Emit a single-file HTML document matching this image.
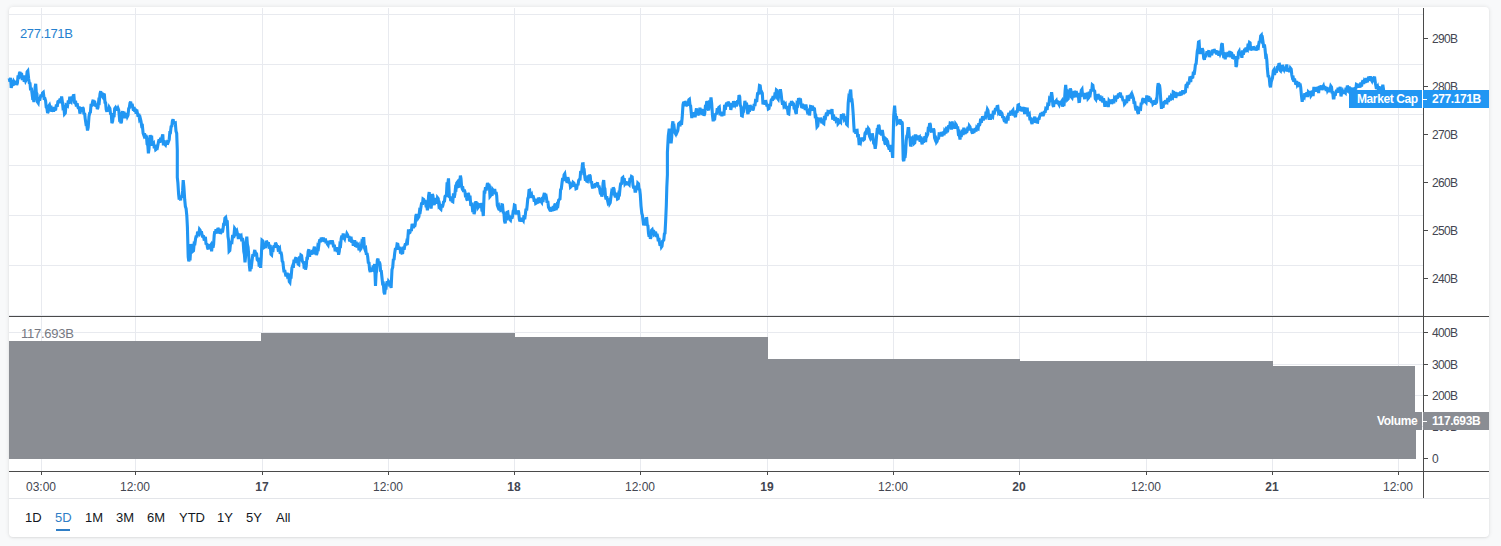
<!DOCTYPE html>
<html><head><meta charset="utf-8"><style>
html,body{margin:0;padding:0;}
body{width:1501px;height:546px;overflow:hidden;background:#f8f9fa;position:relative;font-family:"Liberation Sans",sans-serif;}
.card{position:absolute;left:9px;top:7px;width:1480px;height:530px;background:#fff;border-radius:4px;box-shadow:0 0 4px rgba(0,0,0,.10),0 1px 2px rgba(0,0,0,.06);}
svg{position:absolute;left:0;top:0;}
.t{position:absolute;white-space:nowrap;font-size:12px;line-height:14px;color:#434651;}
.pl{letter-spacing:-0.7px;}
.tc{width:60px;text-align:center;}
.b{font-weight:bold;}
.leg{font-size:13px;line-height:15px;letter-spacing:-0.4px;}
.blue{color:#2581cf;}
.gray{color:#767982;letter-spacing:-0.25px;}
.lb{position:absolute;height:18px;}
.lb span{position:absolute;top:2px;font-size:12px;line-height:14px;color:#fff;font-weight:bold;white-space:nowrap;}
.lb i{position:absolute;left:0;top:9px;width:4px;height:1px;background:#fff;}
.tb{font-size:13px;line-height:16px;color:#131722;}
.sel{color:#2f7ec6;}
</style></head><body>
<div class="card"></div>
<svg width="1501" height="546" viewBox="0 0 1501 546" shape-rendering="crispEdges">
<line x1="41.5" y1="8" x2="41.5" y2="471" stroke="#e8eaef" stroke-width="1"/>
<line x1="135.5" y1="8" x2="135.5" y2="471" stroke="#e8eaef" stroke-width="1"/>
<line x1="262.5" y1="8" x2="262.5" y2="471" stroke="#e8eaef" stroke-width="1"/>
<line x1="388.5" y1="8" x2="388.5" y2="471" stroke="#e8eaef" stroke-width="1"/>
<line x1="514.5" y1="8" x2="514.5" y2="471" stroke="#e8eaef" stroke-width="1"/>
<line x1="640.5" y1="8" x2="640.5" y2="471" stroke="#e8eaef" stroke-width="1"/>
<line x1="767.5" y1="8" x2="767.5" y2="471" stroke="#e8eaef" stroke-width="1"/>
<line x1="893.5" y1="8" x2="893.5" y2="471" stroke="#e8eaef" stroke-width="1"/>
<line x1="1019.5" y1="8" x2="1019.5" y2="471" stroke="#e8eaef" stroke-width="1"/>
<line x1="1146.5" y1="8" x2="1146.5" y2="471" stroke="#e8eaef" stroke-width="1"/>
<line x1="1272.5" y1="8" x2="1272.5" y2="471" stroke="#e8eaef" stroke-width="1"/>
<line x1="1398.5" y1="8" x2="1398.5" y2="471" stroke="#e8eaef" stroke-width="1"/>
<line x1="9" y1="14.5" x2="1423" y2="14.5" stroke="#e8eaef" stroke-width="1"/>
<line x1="9" y1="64.5" x2="1423" y2="64.5" stroke="#e8eaef" stroke-width="1"/>
<line x1="9" y1="114.5" x2="1423" y2="114.5" stroke="#e8eaef" stroke-width="1"/>
<line x1="9" y1="165.5" x2="1423" y2="165.5" stroke="#e8eaef" stroke-width="1"/>
<line x1="9" y1="215.5" x2="1423" y2="215.5" stroke="#e8eaef" stroke-width="1"/>
<line x1="9" y1="265.5" x2="1423" y2="265.5" stroke="#e8eaef" stroke-width="1"/>
<line x1="9" y1="315.5" x2="1423" y2="315.5" stroke="#e8eaef" stroke-width="1"/>
<line x1="9" y1="332.5" x2="1423" y2="332.5" stroke="#e8eaef" stroke-width="1"/>
<line x1="9" y1="364.5" x2="1423" y2="364.5" stroke="#e8eaef" stroke-width="1"/>
<line x1="9" y1="395.5" x2="1423" y2="395.5" stroke="#e8eaef" stroke-width="1"/>
<line x1="9" y1="426.5" x2="1423" y2="426.5" stroke="#e8eaef" stroke-width="1"/>
<rect x="9" y="341" width="252" height="118" fill="#8a8d93"/>
<rect x="261" y="333" width="254" height="126" fill="#8a8d93"/>
<rect x="515" y="337" width="253" height="122" fill="#8a8d93"/>
<rect x="768" y="359" width="252" height="100" fill="#8a8d93"/>
<rect x="1020" y="361" width="253" height="98" fill="#8a8d93"/>
<rect x="1273" y="366" width="142" height="93" fill="#8a8d93"/>
<rect x="1415" y="430" width="1" height="29" fill="#8a8d93"/>
<polyline points="9.2,78.3 9.9,81.8 10.6,77.8 11.2,87.9 11.9,85.6 12.6,83.7 13.3,85.6 14.0,81.7 14.7,82.9 15.4,84.3 16.0,80.7 16.7,85.0 17.4,82.9 18.1,75.4 18.8,79.1 19.4,73.3 20.1,71.9 20.8,76.0 21.5,73.0 22.2,78.5 22.9,78.3 23.6,75.4 24.2,81.9 24.9,78.6 25.6,81.0 26.3,79.6 27.1,71.9 27.8,71.0 28.6,78.5 29.3,82.9 30.0,83.4 30.6,90.3 31.3,87.7 32.0,93.0 32.6,97.9 33.3,97.6 33.9,102.0 34.5,97.2 35.1,87.4 35.7,83.8 36.3,92.5 36.9,93.6 37.5,102.0 38.2,103.0 38.9,97.2 39.6,100.6 40.3,97.5 41.0,94.7 41.8,96.7 42.5,93.0 43.3,92.3 44.1,98.5 44.9,98.5 45.6,100.9 46.2,107.2 46.9,108.1 47.6,113.0 48.2,111.7 48.9,105.8 49.5,104.9 50.2,107.6 50.9,105.6 51.5,111.5 52.2,110.4 52.9,108.5 53.6,111.7 54.3,107.0 55.0,109.5 55.7,109.3 56.4,104.6 57.2,106.7 57.9,101.7 58.6,101.2 59.3,103.0 60.1,98.5 60.8,103.2 61.6,96.4 62.3,101.2 63.0,107.9 63.8,107.3 64.5,114.0 65.3,113.1 66.0,105.2 66.8,105.8 67.5,106.2 68.3,100.4 69.0,103.9 69.8,96.6 70.5,100.3 71.2,101.3 71.9,96.4 72.6,98.6 73.3,95.7 73.9,95.6 74.5,102.5 75.1,103.0 75.8,102.6 76.4,106.6 77.1,103.2 77.8,106.7 78.5,108.9 79.2,106.5 79.9,113.6 80.6,110.4 81.3,107.2 81.9,111.8 82.6,107.2 83.3,108.5 83.9,114.3 84.6,112.8 85.2,118.6 86.0,124.1 86.7,123.8 87.5,130.5 88.2,127.2 89.0,116.4 89.7,113.0 90.4,112.3 91.1,103.8 91.8,106.4 92.5,102.1 93.2,99.8 93.8,105.7 94.5,100.8 95.2,104.0 95.9,106.5 96.6,104.3 97.3,108.9 98.0,107.6 98.7,100.9 99.3,101.6 100.0,93.9 100.7,91.1 101.3,95.6 102.0,92.4 102.6,96.6 103.2,97.5 103.8,93.7 104.4,94.8 105.0,102.5 105.6,102.8 106.2,109.5 106.9,111.7 107.7,107.7 108.4,111.5 109.2,107.3 109.9,108.5 110.6,114.5 111.2,113.2 111.9,123.1 112.6,121.4 113.3,115.7 114.0,117.2 114.7,108.5 115.4,107.6 116.1,109.4 116.8,106.4 117.4,110.4 118.1,108.5 118.8,110.3 119.5,118.5 120.2,117.6 120.9,123.2 121.5,121.9 122.1,112.6 122.7,111.3 123.4,114.1 124.0,111.6 124.7,118.3 125.3,113.0 126.0,117.6 126.6,114.3 127.3,116.8 128.0,115.4 128.7,108.5 129.3,108.0 130.0,103.0 130.7,101.7 131.4,107.4 132.1,103.8 132.8,107.6 133.5,110.6 134.1,107.1 134.8,111.8 135.4,108.7 136.1,113.8 136.7,109.5 137.4,113.0 138.1,116.8 138.8,113.8 139.6,119.4 140.3,118.4 141.0,121.4 141.7,126.1 142.4,125.8 143.1,133.1 143.8,135.1 144.5,133.3 145.2,138.6 145.8,134.9 146.5,136.9 147.1,144.2 147.8,145.1 148.4,153.4 149.0,148.8 149.6,139.2 150.2,135.1 150.9,138.9 151.6,135.5 152.2,145.7 152.9,144.2 153.6,143.4 154.3,148.3 155.0,145.9 155.7,149.7 156.4,149.2 157.1,144.8 157.7,145.9 158.4,142.4 159.1,139.4 159.9,142.7 160.6,137.7 161.4,140.1 162.1,136.9 162.8,134.3 163.4,145.4 164.1,140.2 164.8,144.2 165.5,145.0 166.3,141.8 167.0,144.5 167.8,140.0 168.5,141.5 169.2,139.7 169.8,132.6 170.4,132.6 171.1,126.6 171.8,126.1 172.4,121.0 173.1,119.3 173.9,124.3 174.6,123.0 175.3,122.8 176.0,131.1 176.7,133.3 177.3,150.0 177.3,177.5 177.9,182.8 178.6,194.1 179.2,199.5 179.9,197.7 180.6,200.4 181.2,195.5 181.9,197.6 182.6,190.9 183.2,180.2 183.9,187.1 184.7,199.5 185.4,206.6 186.1,208.6 186.8,215.5 187.4,226.9 188.2,256.8 188.8,261.4 189.4,257.9 190.0,260.4 191.0,244.0 191.6,248.0 192.2,247.5 192.8,251.3 193.5,250.7 194.2,243.2 194.9,243.4 195.6,238.5 196.3,235.7 196.9,237.4 197.6,231.6 198.3,233.0 198.9,233.7 199.5,229.4 200.1,230.2 200.7,232.9 201.4,231.3 202.0,234.8 202.7,237.2 203.3,235.4 204.0,238.9 204.7,238.5 205.4,237.0 206.1,244.6 206.8,243.3 207.5,247.6 208.2,249.4 208.8,244.1 209.5,248.0 210.2,245.8 210.9,244.8 211.6,251.4 212.3,244.5 213.0,247.6 213.6,244.5 214.2,235.2 214.8,231.1 215.4,233.4 216.0,229.2 216.6,232.0 217.2,233.2 217.9,227.9 218.5,229.3 219.2,233.4 219.8,228.9 220.5,233.9 221.2,232.0 221.8,228.9 222.4,232.5 223.0,229.3 223.6,224.4 224.3,224.4 224.9,218.3 225.7,217.5 226.5,222.1 227.3,222.0 228.0,236.6 228.6,240.3 229.1,251.3 229.8,250.6 230.6,242.8 231.3,242.1 231.9,242.3 232.5,236.5 233.1,236.6 233.8,236.6 234.6,228.3 235.3,229.3 236.1,232.7 236.9,231.3 237.7,234.8 238.4,238.9 239.1,233.4 239.7,238.4 240.4,236.6 241.1,235.9 241.8,241.3 242.5,238.1 243.2,242.1 243.8,251.6 244.4,254.3 245.0,262.3 245.6,256.2 246.2,243.2 246.8,236.6 247.4,244.3 248.1,247.3 248.7,255.0 249.3,264.6 250.0,271.4 250.8,264.4 251.5,265.4 252.3,258.6 252.9,254.1 253.6,256.5 254.2,253.1 254.8,249.9 255.4,255.1 256.0,253.1 256.6,253.9 257.2,259.7 257.8,260.4 258.5,257.7 259.2,266.6 259.9,263.3 260.6,267.8 261.3,256.7 262.0,240.3 262.7,240.9 263.5,248.0 264.2,247.6 264.9,244.4 265.6,248.2 266.3,240.9 267.0,242.1 267.7,245.7 268.4,242.3 269.0,246.4 269.7,245.8 270.3,246.1 271.0,254.4 271.6,255.0 272.2,249.9 272.8,252.1 273.4,247.6 274.1,245.4 274.8,247.7 275.5,242.7 276.2,244.0 276.9,246.7 277.5,245.3 278.2,249.9 278.9,249.5 279.6,248.5 280.2,253.9 280.9,251.9 281.6,255.0 282.2,261.1 282.9,262.1 283.5,267.8 284.1,272.3 284.7,269.9 285.3,273.3 286.0,276.5 286.7,272.8 287.4,276.0 288.1,275.1 288.7,276.2 289.3,281.6 289.9,282.4 290.6,275.7 291.2,276.1 291.9,268.1 292.6,266.0 293.3,267.8 294.0,259.6 294.7,262.5 295.4,258.6 296.1,257.4 296.8,263.0 297.4,260.9 298.1,264.1 298.8,264.6 299.5,256.3 300.2,259.6 300.9,255.0 301.6,255.5 302.3,261.1 303.0,262.3 303.6,261.4 304.2,268.5 304.9,266.2 305.5,269.6 306.2,266.5 306.9,258.2 307.5,258.2 308.2,251.3 308.9,249.3 309.6,256.8 310.3,251.1 311.0,253.1 311.7,254.4 312.4,249.9 313.0,252.6 313.7,249.5 314.4,246.7 315.0,254.4 315.7,252.1 316.4,255.0 317.1,253.0 317.8,246.6 318.5,247.6 319.2,242.1 319.9,239.5 320.5,242.3 321.2,237.7 321.9,239.4 322.6,240.9 323.3,237.6 324.0,241.7 324.7,240.3 325.4,238.5 326.0,243.4 326.7,241.2 327.4,244.0 328.1,245.0 328.8,240.7 329.5,244.1 330.2,242.1 330.9,240.6 331.5,244.1 332.2,240.4 332.9,243.0 333.6,247.3 334.3,244.8 335.0,249.7 335.7,249.5 336.4,247.1 337.1,252.0 337.9,247.8 338.6,254.8 339.3,251.3 339.9,244.4 340.6,245.1 341.2,238.5 341.9,235.6 342.5,239.5 343.2,233.4 343.9,237.5 344.6,238.8 345.4,234.7 346.1,237.1 346.9,233.6 347.6,234.8 348.3,237.6 349.0,236.0 349.6,241.4 350.3,240.3 351.0,236.6 351.8,242.8 352.5,239.9 353.3,245.7 354.0,242.1 354.7,240.3 355.5,246.9 356.2,241.6 357.0,247.5 357.7,245.8 358.4,245.0 359.0,250.4 359.7,247.0 360.4,249.5 361.1,248.5 361.8,242.8 362.5,243.9 363.2,238.5 363.8,238.5 364.4,247.8 365.0,249.5 365.7,248.6 366.4,254.8 367.0,253.0 367.7,256.8 368.3,262.6 369.0,263.0 369.6,269.6 370.3,272.0 371.1,267.9 371.8,269.6 372.5,270.0 373.2,265.5 373.9,267.9 374.6,264.1 375.5,286.0 376.1,273.3 376.7,270.7 377.3,260.4 378.0,258.7 378.6,263.9 379.3,261.8 380.0,264.1 380.6,270.7 381.3,271.1 381.9,277.0 382.6,283.5 383.3,283.3 384.0,292.2 384.7,294.3 385.3,288.4 385.9,289.7 386.5,284.2 387.2,281.4 387.9,284.9 388.5,281.4 389.2,282.4 389.8,286.4 390.5,284.3 391.1,288.0 392.0,269.6 392.7,267.5 393.4,258.9 394.0,260.0 394.7,253.1 395.5,248.1 396.3,249.6 397.1,244.0 397.8,244.2 398.6,248.4 399.3,248.5 400.0,246.9 400.6,253.5 401.3,249.4 402.0,253.1 402.7,252.9 403.4,246.7 404.1,249.8 404.8,245.8 405.5,243.3 406.1,245.4 406.8,241.4 407.5,242.1 408.5,229.3 409.2,233.1 410.0,232.4 410.7,229.4 411.4,231.0 412.0,225.2 412.7,225.1 413.3,228.2 414.0,225.0 414.6,226.9 415.2,224.5 415.8,216.1 416.4,214.1 417.0,216.8 417.6,214.7 418.2,217.8 418.9,216.7 419.6,210.6 420.3,211.3 421.0,206.8 421.7,202.4 422.4,204.9 423.0,199.0 423.7,199.5 424.3,201.9 425.0,200.0 425.6,203.1 426.2,207.4 426.8,206.0 427.4,210.4 428.0,205.5 428.6,196.0 429.2,192.1 429.8,198.9 430.5,201.3 431.1,208.6 431.7,202.7 432.3,194.0 432.9,195.6 433.6,202.7 434.2,205.0 434.9,201.0 435.5,203.6 436.2,197.9 436.8,203.9 437.5,197.6 438.2,198.5 438.9,205.3 439.5,204.4 440.2,208.6 440.9,209.3 441.6,204.2 442.3,207.4 443.0,205.0 443.7,200.9 444.4,202.2 445.0,196.5 445.7,195.8 446.4,195.7 447.1,182.4 447.8,184.1 448.5,178.4 449.4,197.6 450.1,196.4 450.8,201.1 451.4,198.2 452.1,201.3 452.8,201.7 453.5,193.3 454.2,197.8 454.9,194.0 455.5,187.9 456.1,188.6 456.7,183.0 457.3,182.2 457.9,186.8 458.5,186.6 459.1,181.6 459.8,183.6 460.4,175.6 461.0,178.6 461.6,186.6 462.2,188.5 462.9,188.1 463.6,192.1 464.3,189.8 465.0,192.1 465.6,197.4 466.2,194.5 466.8,199.5 467.4,200.4 468.0,193.1 468.6,194.0 469.3,198.2 470.0,195.7 470.7,204.7 471.4,205.0 472.1,204.6 472.8,212.1 473.4,209.8 474.1,214.1 474.7,211.4 475.3,203.6 475.9,201.3 476.6,203.9 477.3,202.6 478.0,207.7 478.7,206.8 479.4,204.9 480.0,207.3 480.7,203.2 481.4,205.0 482.0,211.3 482.7,210.2 483.3,216.0 484.2,192.1 484.9,192.1 485.5,187.1 486.2,190.5 486.9,186.6 487.5,182.9 488.2,186.6 488.8,183.9 489.4,186.0 490.0,196.5 490.6,195.8 491.3,192.8 492.0,195.8 492.6,189.4 493.3,190.3 494.0,194.2 494.7,189.0 495.4,193.7 496.1,192.1 496.7,195.6 497.3,205.1 497.9,206.8 498.6,205.9 499.3,210.4 500.0,207.4 500.7,210.4 501.3,210.1 501.9,204.8 502.5,205.0 503.2,212.3 503.9,212.7 504.5,220.9 505.2,223.3 505.8,217.2 506.5,220.3 507.1,212.3 507.8,212.0 508.5,218.2 509.1,215.1 509.8,219.6 510.5,220.3 511.2,216.5 511.9,218.7 512.6,215.9 513.2,211.0 513.8,209.9 514.4,205.0 515.0,205.3 515.6,212.6 516.2,214.1 516.8,210.9 517.5,214.1 518.1,210.4 518.7,212.4 519.3,219.0 519.9,221.4 520.6,218.5 521.2,221.7 521.9,217.7 522.6,219.6 523.3,220.6 524.0,215.3 524.7,219.3 525.4,214.1 526.0,208.7 526.6,210.6 527.2,205.0 527.8,198.5 528.4,197.1 529.0,190.3 529.6,190.1 530.3,196.2 530.9,195.8 531.6,194.7 532.2,197.9 532.9,195.6 533.6,197.6 534.3,201.7 535.0,198.6 535.7,203.5 536.4,203.1 537.1,199.5 537.8,203.6 538.4,197.6 539.1,199.5 539.7,202.6 540.4,198.1 541.0,201.3 541.7,202.3 542.4,196.9 543.0,202.0 543.7,195.8 544.4,192.9 545.0,199.4 545.7,193.9 546.4,197.6 547.1,202.7 547.8,200.8 548.5,207.2 549.2,208.6 549.9,207.0 550.5,211.6 551.2,208.0 551.9,209.5 552.6,211.0 553.3,205.9 554.0,210.9 554.7,205.0 555.3,203.7 555.9,209.9 556.5,208.6 557.2,204.7 557.9,205.4 558.6,200.2 559.3,199.5 560.0,199.0 560.6,189.6 561.3,188.9 562.0,183.0 562.7,178.0 563.4,181.0 564.1,174.9 564.8,173.8 565.4,178.1 566.0,176.9 566.6,181.1 567.2,182.6 567.8,177.3 568.4,179.3 569.1,183.6 569.8,181.7 570.5,187.2 571.2,186.6 571.9,184.5 572.5,186.8 573.2,182.4 573.9,183.0 574.6,186.1 575.3,184.1 576.0,188.8 576.7,188.5 577.4,183.9 578.0,185.3 578.7,180.3 579.4,179.3 580.0,179.2 580.6,172.2 581.2,172.0 581.8,171.1 582.5,163.8 583.1,163.7 583.7,171.9 584.3,171.3 584.9,177.5 585.5,180.7 586.1,177.3 586.7,181.1 587.4,181.4 588.1,175.5 588.8,178.5 589.5,174.7 590.2,176.0 590.9,183.2 591.5,181.2 592.2,186.6 592.9,188.3 593.6,184.0 594.3,187.9 595.0,185.7 595.6,183.5 596.2,186.2 596.8,183.9 597.5,182.5 598.2,187.6 598.9,185.6 599.6,188.5 600.3,192.7 601.1,192.4 601.8,196.6 602.4,193.5 603.1,182.9 603.7,180.1 604.3,187.4 604.9,188.6 605.5,196.6 606.1,199.4 606.7,196.2 607.3,199.4 608.0,202.5 608.8,201.2 609.5,204.0 610.2,202.8 611.0,196.6 611.7,191.6 612.5,192.5 613.2,187.5 614.0,189.0 614.7,194.8 615.4,197.2 616.1,192.9 616.8,194.8 617.5,199.0 618.3,198.5 618.9,193.3 619.5,193.8 620.1,187.5 620.8,182.7 621.5,184.7 622.2,178.0 622.9,177.4 623.6,181.0 624.2,178.3 624.9,183.9 625.6,182.9 626.3,181.5 627.0,185.3 627.7,181.7 628.4,183.8 629.2,184.7 630.0,177.9 630.7,180.1 631.5,176.5 632.2,176.9 633.0,185.6 633.7,188.4 634.4,185.6 635.0,191.1 635.7,191.1 636.4,187.2 637.1,189.5 637.8,183.1 638.5,183.8 639.1,189.3 639.7,189.6 640.3,194.8 641.0,205.8 641.8,213.1 642.4,215.4 643.0,220.4 643.6,225.3 644.3,218.9 644.9,224.1 645.5,224.1 646.1,218.7 646.7,218.6 647.3,225.1 647.9,225.7 648.5,233.3 649.1,236.7 649.8,235.1 650.4,238.8 651.0,237.1 651.6,230.2 652.2,229.6 652.9,232.5 653.5,229.9 654.2,234.1 654.9,233.3 655.6,231.7 656.3,237.0 657.0,233.9 657.7,236.9 658.3,241.3 658.9,238.0 659.5,242.4 660.1,245.7 660.8,243.6 661.4,247.0 662.0,246.1 662.6,241.1 663.2,240.6 663.8,239.8 664.4,233.8 665.0,233.3 665.6,221.8 666.3,205.8 666.8,187.6 667.4,174.7 667.4,152.4 668.3,135.9 669.2,128.6 669.8,134.8 670.5,135.8 671.1,143.3 671.7,137.4 672.3,125.4 672.9,121.3 673.5,127.7 674.1,127.0 674.7,132.3 675.5,133.7 676.3,129.9 677.1,132.3 677.8,130.7 678.6,123.7 679.3,123.1 680.0,126.3 680.8,121.8 681.5,124.9 682.2,117.5 683.0,104.8 683.7,101.8 684.4,106.2 685.0,101.1 685.7,103.0 686.3,106.2 686.9,102.6 687.5,104.8 688.1,104.4 688.8,99.8 689.4,99.3 690.0,105.0 690.6,105.8 691.2,112.1 691.8,118.0 692.4,112.6 693.0,115.8 693.7,117.1 694.4,112.2 695.1,117.4 695.8,112.1 696.5,108.3 697.1,115.3 697.8,111.8 698.5,114.0 699.2,115.1 699.9,107.7 700.6,113.4 701.3,110.3 702.0,109.1 702.6,115.0 703.3,112.0 704.0,115.8 704.7,114.0 705.4,106.4 706.1,106.4 706.8,101.1 707.4,102.3 708.0,108.9 708.6,110.3 709.4,103.3 710.2,104.2 711.0,97.5 711.7,103.7 712.5,115.5 713.2,121.3 713.9,115.0 714.5,120.3 715.2,114.5 715.9,114.0 716.6,113.6 717.3,108.1 718.0,111.4 718.7,107.5 719.3,107.0 719.9,114.0 720.5,114.0 721.2,111.7 721.9,116.3 722.6,111.7 723.3,114.0 724.0,114.1 724.6,104.8 725.3,109.8 726.0,104.8 726.7,102.6 727.4,106.4 728.1,101.8 728.8,103.0 729.5,105.8 730.1,102.9 730.8,109.9 731.5,106.6 732.2,104.4 732.9,107.3 733.5,101.2 734.2,103.0 734.9,104.4 735.6,101.3 736.3,106.4 737.0,103.9 737.7,100.2 738.4,102.5 739.0,95.2 739.7,96.6 740.3,105.3 741.0,106.7 741.6,115.8 742.3,116.1 743.0,110.0 743.6,110.5 744.3,106.6 744.9,100.8 745.6,106.5 746.2,103.0 746.8,104.3 747.4,112.5 748.0,114.0 748.7,110.2 749.4,111.9 750.0,105.2 750.7,106.6 751.4,109.3 752.1,106.2 752.8,110.4 753.5,108.5 754.2,104.1 754.9,106.1 755.5,100.8 756.2,101.1 756.8,100.9 757.5,93.8 758.1,93.8 758.8,91.9 759.5,85.6 760.2,85.9 761.0,92.3 761.7,92.0 762.3,93.2 763.0,104.3 763.6,103.0 764.3,100.7 765.0,104.7 765.6,100.2 766.3,103.0 767.0,106.5 767.6,103.9 768.3,108.9 769.0,108.5 769.7,104.0 770.4,106.4 771.1,100.4 771.8,99.3 772.5,100.7 773.1,95.9 773.8,99.2 774.5,97.5 775.1,92.5 775.8,94.7 776.4,90.1 777.0,90.6 777.6,98.5 778.2,99.3 778.9,94.2 779.7,94.7 780.4,89.2 781.1,93.6 781.9,101.1 782.6,104.7 783.2,100.8 783.9,105.8 784.6,104.8 785.3,104.1 786.0,109.1 786.7,106.2 787.4,108.5 788.1,113.7 788.8,114.0 789.5,106.4 790.1,103.0 790.8,105.6 791.5,101.0 792.2,104.5 792.9,103.0 793.6,103.8 794.2,109.3 794.9,108.0 795.6,112.1 796.3,113.9 797.0,103.9 797.7,104.7 798.4,99.3 799.1,99.2 799.8,103.8 800.4,98.4 801.1,104.8 801.8,107.8 802.5,103.6 803.1,108.6 803.8,106.6 804.5,104.4 805.2,110.1 805.9,104.5 806.6,108.5 807.4,111.8 808.2,110.9 809.0,114.0 809.7,114.1 810.5,106.4 811.2,106.6 811.9,108.4 812.5,105.7 813.2,110.8 813.9,108.5 814.5,108.8 815.2,116.1 815.8,115.8 816.4,119.5 817.0,126.8 817.8,125.8 818.6,119.1 819.4,119.5 820.0,120.8 820.6,117.7 821.2,119.5 821.8,123.3 822.5,120.6 823.1,123.1 823.8,123.6 824.5,116.0 825.1,120.0 825.8,115.8 826.5,112.6 827.2,116.1 827.9,111.7 828.6,112.1 829.3,113.7 830.0,110.1 830.6,113.7 831.3,112.1 832.0,109.0 832.7,119.7 833.4,114.7 834.1,117.6 834.8,120.7 835.5,117.1 836.1,120.4 836.8,119.5 837.4,118.2 838.0,123.8 838.6,123.1 839.3,119.7 840.0,121.3 840.7,122.1 841.4,114.1 842.0,119.3 842.7,115.8 843.5,113.8 844.3,118.9 845.1,117.6 845.8,118.4 846.6,124.3 847.3,125.0 848.2,103.0 848.8,97.3 849.5,98.3 850.1,92.0 850.7,89.6 851.3,99.1 851.9,99.3 852.5,104.7 853.2,114.0 853.8,124.8 854.3,132.3 855.0,129.9 855.8,133.8 856.5,130.4 857.1,130.3 857.7,137.4 858.3,134.1 859.2,145.1 859.8,141.6 860.5,142.7 861.1,139.6 861.8,137.9 862.5,140.8 863.1,137.6 863.8,139.6 864.4,139.1 865.0,133.2 865.6,132.3 866.3,132.8 867.0,128.0 867.7,132.9 868.4,128.6 869.0,129.5 869.6,136.4 870.2,137.8 870.9,135.6 871.6,140.3 872.3,133.3 873.0,137.8 873.7,143.3 874.5,143.8 875.2,148.8 875.9,144.1 876.6,135.9 877.2,129.7 877.9,129.8 878.5,124.9 879.1,126.0 879.7,132.7 880.3,134.1 881.0,131.6 881.6,135.6 882.3,130.0 883.0,134.1 883.6,139.1 884.3,138.8 884.9,143.3 885.5,144.6 886.1,139.1 886.7,139.6 887.3,143.8 887.9,143.2 888.5,146.9 889.2,149.6 889.9,144.9 890.6,151.8 891.3,146.9 892.0,150.8 892.7,157.9 893.7,115.8 894.6,105.7 895.2,113.0 895.9,117.6 896.5,116.1 897.1,123.6 897.7,123.1 898.3,121.3 898.9,124.0 899.5,121.3 900.2,119.4 900.9,124.8 901.6,121.4 902.3,123.1 903.2,159.7 903.8,161.1 904.4,156.9 905.0,157.9 905.6,152.4 906.2,141.1 906.8,135.9 907.4,134.9 908.1,128.6 908.7,128.6 909.3,136.6 909.9,137.8 910.5,145.1 911.1,145.2 911.7,138.4 912.3,137.8 912.9,142.1 913.6,139.9 914.2,143.3 914.8,142.7 915.4,135.9 916.0,135.9 916.7,138.9 917.4,135.6 918.1,140.1 918.8,137.8 919.5,137.1 920.1,141.8 920.8,136.5 921.5,141.4 922.2,144.4 922.9,137.7 923.5,142.7 924.2,139.6 924.9,136.2 925.6,142.1 926.3,135.2 927.0,135.9 927.7,134.3 928.4,126.8 929.0,127.9 929.7,123.1 930.3,124.3 931.0,130.9 931.6,132.3 932.2,128.8 932.8,132.0 933.4,128.6 934.0,130.2 934.6,137.9 935.2,139.6 935.8,138.8 936.5,142.2 937.1,141.4 937.8,137.7 938.5,139.3 939.1,133.9 939.8,134.1 940.5,136.3 941.2,131.9 941.9,136.4 942.6,134.1 943.3,131.6 944.0,135.2 944.6,131.2 945.3,132.3 946.0,133.4 946.7,126.6 947.4,132.1 948.1,128.6 948.8,125.4 949.5,128.0 950.1,123.5 950.8,124.0 951.5,129.5 952.2,121.5 952.9,128.0 953.6,126.8 954.3,125.0 955.0,128.6 955.6,123.9 956.3,124.9 957.0,128.5 957.6,126.4 958.3,133.0 959.0,132.3 960.0,139.6 960.6,134.8 961.2,137.1 961.8,132.3 962.5,129.8 963.1,135.0 963.8,127.7 964.5,132.3 965.2,134.0 965.9,128.6 966.6,132.7 967.3,130.4 968.0,126.9 968.6,130.4 969.3,125.8 970.0,126.8 970.6,130.3 971.3,128.4 971.9,132.3 972.6,133.5 973.2,128.8 973.9,132.8 974.6,130.4 975.3,128.3 976.0,131.6 976.7,127.7 977.4,128.6 978.1,128.9 978.8,123.3 979.4,126.0 980.1,123.1 980.7,118.6 981.3,122.8 981.9,119.5 982.6,116.4 983.3,120.6 984.0,116.0 984.7,117.6 985.4,117.8 986.0,111.7 986.7,113.2 987.4,109.4 988.0,110.5 988.7,117.5 989.3,119.5 990.0,116.7 990.6,119.8 991.3,114.0 992.0,115.8 992.7,116.6 993.4,110.7 994.1,114.4 994.8,111.2 995.6,108.2 996.3,110.9 997.1,106.6 997.8,106.4 998.6,112.9 999.3,112.1 1000.0,110.1 1000.7,115.7 1001.4,112.1 1002.1,114.0 1002.7,117.9 1003.3,116.2 1003.9,119.5 1004.6,121.7 1005.3,117.7 1006.0,123.4 1006.7,119.5 1007.4,115.7 1008.0,120.5 1008.7,112.8 1009.4,114.0 1010.1,115.6 1010.8,110.6 1011.5,113.5 1012.2,111.2 1012.9,110.3 1013.5,115.6 1014.2,113.3 1014.9,115.8 1015.5,117.0 1016.1,112.0 1016.7,112.1 1017.3,111.7 1018.0,105.1 1018.6,104.8 1019.2,110.9 1019.8,106.2 1020.4,109.4 1021.1,110.9 1021.8,107.3 1022.5,111.4 1023.2,108.5 1023.9,107.2 1024.6,114.2 1025.2,107.7 1025.9,110.3 1026.6,113.4 1027.2,107.7 1027.9,116.3 1028.6,114.9 1029.3,114.1 1030.0,120.2 1030.7,117.6 1031.4,122.2 1032.1,124.0 1032.8,118.5 1033.4,121.0 1034.1,118.5 1034.8,116.8 1035.5,122.8 1036.2,119.8 1036.9,122.2 1037.6,122.3 1038.2,117.8 1038.9,119.5 1039.6,116.7 1040.1,115.2 1040.8,113.2 1041.5,116.1 1042.3,112.1 1043.0,116.0 1043.7,114.2 1044.4,111.2 1045.1,112.8 1045.8,108.4 1046.5,108.8 1047.1,109.9 1047.7,104.7 1048.3,105.1 1048.9,104.7 1049.5,98.9 1050.1,99.6 1050.8,97.4 1051.6,92.3 1052.2,96.3 1052.9,105.1 1053.6,106.9 1054.2,100.5 1054.9,103.9 1055.6,101.4 1056.3,100.5 1057.0,104.0 1057.7,100.7 1058.4,103.3 1059.1,104.6 1059.8,101.3 1060.4,103.9 1061.1,102.3 1061.8,101.2 1062.5,106.6 1063.2,102.8 1063.9,106.0 1064.5,100.7 1065.1,90.6 1065.7,84.9 1066.3,92.4 1066.9,92.4 1067.5,99.6 1068.2,98.9 1068.9,92.1 1069.6,92.7 1070.3,88.6 1070.9,90.1 1071.5,97.1 1072.1,97.8 1072.8,94.6 1073.5,97.5 1074.2,91.1 1074.9,92.3 1075.6,97.2 1076.2,90.9 1076.9,95.5 1077.6,94.1 1078.2,94.2 1078.9,101.5 1079.5,101.4 1080.1,95.5 1080.7,95.5 1081.3,90.4 1082.0,89.4 1082.7,96.6 1083.3,93.0 1084.0,95.9 1084.7,99.2 1085.4,92.8 1086.1,97.1 1086.8,94.1 1087.4,93.0 1088.0,98.5 1088.6,97.8 1089.2,91.6 1089.8,97.2 1090.4,93.2 1091.0,89.2 1091.7,91.3 1092.3,84.9 1092.9,85.4 1093.5,90.1 1094.1,90.4 1094.7,91.1 1095.3,98.8 1095.9,99.6 1096.6,96.3 1097.3,99.4 1098.0,94.1 1098.7,95.9 1099.4,99.5 1100.1,95.4 1100.7,100.9 1101.4,99.6 1102.1,98.8 1102.8,102.4 1103.5,98.3 1104.2,101.4 1104.9,106.8 1105.6,100.8 1106.2,106.2 1106.9,105.1 1107.6,102.0 1108.3,107.1 1109.0,100.5 1109.7,101.4 1110.4,103.3 1111.1,99.5 1111.7,103.7 1112.4,102.3 1113.1,99.4 1113.8,103.2 1114.5,97.9 1115.2,98.7 1115.9,99.4 1116.6,95.6 1117.2,98.7 1117.9,95.9 1118.5,93.8 1119.1,96.9 1119.7,94.1 1120.4,92.8 1121.1,97.8 1121.8,95.8 1122.5,98.7 1123.2,101.1 1123.8,99.5 1124.5,104.1 1125.2,103.3 1125.9,100.7 1126.6,103.2 1127.3,95.5 1128.0,99.6 1128.7,100.9 1129.3,95.0 1130.0,98.3 1130.7,95.0 1131.4,93.9 1132.1,98.4 1132.8,96.6 1133.5,98.7 1134.1,103.7 1134.7,101.5 1135.3,106.9 1136.1,110.3 1136.9,106.0 1137.7,112.4 1138.4,113.7 1139.2,108.5 1139.9,108.8 1140.6,109.1 1141.2,102.7 1141.9,104.4 1142.6,99.6 1143.3,98.3 1144.0,103.0 1144.7,99.2 1145.4,101.4 1146.1,102.3 1146.8,95.4 1147.4,100.9 1148.1,97.8 1148.8,96.1 1149.5,101.9 1150.2,97.8 1150.9,100.5 1151.6,102.9 1152.2,100.6 1152.9,104.1 1153.6,103.3 1154.3,100.5 1155.0,104.6 1155.7,101.8 1156.4,103.3 1157.0,97.8 1157.6,87.3 1158.2,83.1 1158.8,86.8 1159.4,84.5 1160.0,88.6 1160.8,100.6 1161.5,108.8 1162.2,105.1 1163.0,107.7 1163.7,103.3 1164.4,101.4 1165.1,104.3 1165.7,100.1 1166.4,101.4 1167.1,102.1 1167.8,98.1 1168.5,102.0 1169.2,98.7 1169.9,95.7 1170.6,100.4 1171.2,96.7 1171.9,97.8 1172.5,98.1 1173.2,92.0 1173.8,92.3 1174.5,94.9 1175.2,92.0 1175.8,97.9 1176.5,95.0 1177.2,92.5 1177.9,95.9 1178.6,92.5 1179.3,94.1 1180.0,95.7 1180.7,91.5 1181.3,94.8 1182.0,93.2 1182.7,90.4 1183.4,94.1 1184.1,90.9 1184.8,92.3 1185.4,91.9 1186.0,85.4 1186.6,84.9 1187.3,85.6 1187.9,81.7 1188.6,84.3 1189.3,81.3 1190.0,76.4 1190.7,82.0 1191.4,76.2 1192.1,77.6 1192.8,77.2 1193.4,71.6 1194.1,74.7 1194.8,70.3 1195.4,64.6 1196.1,63.9 1196.7,57.5 1197.3,50.9 1197.9,48.4 1198.5,41.9 1199.1,41.6 1199.7,51.4 1200.3,53.8 1200.9,49.6 1201.6,52.8 1202.2,48.3 1203.0,50.6 1203.7,58.0 1204.4,59.7 1205.1,54.7 1205.7,57.0 1206.4,54.3 1207.0,51.4 1207.6,54.5 1208.2,52.5 1208.9,50.3 1209.6,57.2 1210.3,51.8 1211.0,53.4 1211.7,55.3 1212.5,49.6 1213.2,53.3 1214.0,49.2 1214.7,50.6 1215.4,53.2 1216.1,50.3 1216.7,54.5 1217.4,52.5 1218.1,50.9 1218.8,55.7 1219.4,52.4 1220.1,54.3 1220.8,52.7 1221.6,44.5 1222.3,43.3 1223.0,51.9 1223.8,58.0 1224.5,55.9 1225.2,59.2 1225.9,54.6 1226.6,55.2 1227.3,57.0 1227.9,52.0 1228.6,54.6 1229.3,52.5 1230.0,51.1 1230.7,57.2 1231.4,52.3 1232.1,54.3 1232.8,58.7 1233.4,54.4 1234.1,59.2 1234.8,58.0 1235.4,56.2 1236.0,66.9 1236.6,65.3 1237.2,57.6 1237.9,59.0 1238.5,52.5 1239.2,51.3 1239.8,55.0 1240.5,51.8 1241.2,54.3 1241.9,57.8 1242.6,50.5 1243.3,54.7 1244.0,51.6 1244.7,48.9 1245.3,52.3 1246.0,47.6 1246.7,49.7 1247.4,50.2 1248.1,43.6 1248.8,46.2 1249.5,42.4 1250.1,42.8 1250.7,50.5 1251.3,48.8 1252.0,46.9 1252.7,50.3 1253.3,46.5 1254.0,47.9 1254.7,49.9 1255.4,47.1 1256.1,50.5 1256.8,48.8 1257.4,45.5 1258.0,50.1 1258.6,45.1 1259.3,40.9 1260.0,42.2 1260.7,35.9 1261.4,35.1 1262.0,40.0 1262.6,39.1 1263.2,43.3 1263.8,47.9 1264.4,44.5 1265.0,48.8 1265.7,56.5 1266.3,56.1 1266.8,59.9 1267.4,69.0 1268.1,76.1 1268.7,76.3 1269.3,78.3 1269.9,85.2 1270.5,87.3 1271.2,82.1 1271.8,80.0 1272.5,78.0 1273.3,70.8 1273.9,69.9 1274.5,74.7 1275.1,72.6 1275.7,70.1 1276.3,72.8 1276.9,69.0 1277.5,66.0 1278.2,68.0 1278.8,64.4 1279.4,64.3 1280.0,70.2 1280.6,70.8 1281.3,67.7 1281.9,71.2 1282.6,64.8 1283.3,68.0 1284.0,69.5 1284.7,66.8 1285.4,70.9 1286.1,69.0 1286.8,64.4 1287.4,71.6 1288.1,68.4 1288.8,69.9 1289.6,72.0 1290.4,68.0 1291.2,69.0 1291.8,75.0 1292.5,78.1 1293.2,77.7 1293.8,81.8 1294.5,78.7 1295.2,81.8 1295.9,84.5 1296.6,81.0 1297.3,84.8 1298.0,83.6 1298.7,82.1 1299.3,87.1 1300.0,83.6 1300.7,87.3 1301.5,96.2 1302.2,101.9 1302.8,96.4 1303.5,96.4 1304.2,97.2 1304.8,93.3 1305.5,96.8 1306.2,94.6 1306.9,92.6 1307.6,97.1 1308.3,92.0 1309.0,92.8 1309.7,95.3 1310.3,91.0 1311.0,95.6 1311.7,94.6 1312.4,90.6 1313.1,96.0 1313.8,88.2 1314.5,88.2 1315.2,90.6 1315.8,87.3 1316.5,91.5 1317.2,90.0 1317.9,86.7 1318.6,93.0 1319.3,86.1 1320.0,87.3 1320.7,88.6 1321.3,85.4 1322.0,90.0 1322.7,87.3 1323.4,86.0 1324.1,89.4 1324.8,86.4 1325.5,88.2 1326.2,90.8 1326.8,87.0 1327.5,90.4 1328.2,89.1 1328.8,87.9 1329.4,92.2 1330.0,89.9 1330.8,86.0 1331.5,87.0 1332.1,92.3 1332.7,92.4 1333.3,98.0 1334.0,98.0 1334.6,92.9 1335.2,95.7 1335.9,92.1 1336.6,90.0 1337.3,92.7 1338.1,87.8 1338.8,92.4 1339.5,89.2 1340.2,87.0 1341.0,96.4 1341.7,92.8 1342.5,91.2 1343.2,93.8 1344.0,90.0 1344.7,92.1 1345.4,92.8 1346.0,87.7 1346.7,92.7 1347.3,85.6 1348.0,87.0 1348.6,88.8 1349.2,86.5 1349.9,93.6 1350.5,89.2 1351.2,87.7 1352.0,91.0 1352.7,88.4 1353.5,91.6 1354.2,90.3 1354.9,87.5 1355.7,89.6 1356.4,84.4 1357.1,84.8 1357.8,87.7 1358.6,83.7 1359.3,85.5 1360.0,87.4 1360.8,82.4 1361.5,86.6 1362.2,82.6 1363.0,80.2 1363.7,83.9 1364.5,80.3 1365.2,81.1 1365.9,82.8 1366.7,77.9 1367.4,82.2 1368.1,78.9 1368.8,76.7 1369.5,80.8 1370.3,76.4 1371.0,79.3 1371.8,80.7 1372.5,77.1 1373.2,79.4 1374.0,77.8 1374.7,77.9 1375.4,83.3 1376.2,87.7 1376.9,87.7 1377.6,86.5 1378.3,89.8 1379.1,86.4 1379.8,89.2 1380.5,90.5 1381.3,87.5 1382.0,91.3 1382.8,84.7 1383.5,89.2 1384.0,99.0" fill="none" stroke="#2196f3" stroke-width="3.1" stroke-linejoin="miter" stroke-miterlimit="3" shape-rendering="geometricPrecision"/>
<line x1="9" y1="316.5" x2="1489" y2="316.5" stroke="#4a4a4a" stroke-width="1"/>
<line x1="9" y1="471.5" x2="1489" y2="471.5" stroke="#4a4a4a" stroke-width="1"/>
<line x1="1423.5" y1="8" x2="1423.5" y2="498" stroke="#4a4a4a" stroke-width="1"/>
<line x1="9" y1="498.5" x2="1489" y2="498.5" stroke="#e3e5e9" stroke-width="1"/>
<line x1="41.5" y1="472" x2="41.5" y2="475" stroke="#4a4a4a" stroke-width="1"/>
<line x1="135.5" y1="472" x2="135.5" y2="475" stroke="#4a4a4a" stroke-width="1"/>
<line x1="262.5" y1="472" x2="262.5" y2="475" stroke="#4a4a4a" stroke-width="1"/>
<line x1="388.5" y1="472" x2="388.5" y2="475" stroke="#4a4a4a" stroke-width="1"/>
<line x1="514.5" y1="472" x2="514.5" y2="475" stroke="#4a4a4a" stroke-width="1"/>
<line x1="640.5" y1="472" x2="640.5" y2="475" stroke="#4a4a4a" stroke-width="1"/>
<line x1="767.5" y1="472" x2="767.5" y2="475" stroke="#4a4a4a" stroke-width="1"/>
<line x1="893.5" y1="472" x2="893.5" y2="475" stroke="#4a4a4a" stroke-width="1"/>
<line x1="1019.5" y1="472" x2="1019.5" y2="475" stroke="#4a4a4a" stroke-width="1"/>
<line x1="1146.5" y1="472" x2="1146.5" y2="475" stroke="#4a4a4a" stroke-width="1"/>
<line x1="1272.5" y1="472" x2="1272.5" y2="475" stroke="#4a4a4a" stroke-width="1"/>
<line x1="1398.5" y1="472" x2="1398.5" y2="475" stroke="#4a4a4a" stroke-width="1"/>
<line x1="1424" y1="38.5" x2="1428" y2="38.5" stroke="#4a4a4a" stroke-width="1"/>
<line x1="1424" y1="86.5" x2="1428" y2="86.5" stroke="#4a4a4a" stroke-width="1"/>
<line x1="1424" y1="134.5" x2="1428" y2="134.5" stroke="#4a4a4a" stroke-width="1"/>
<line x1="1424" y1="182.5" x2="1428" y2="182.5" stroke="#4a4a4a" stroke-width="1"/>
<line x1="1424" y1="230.5" x2="1428" y2="230.5" stroke="#4a4a4a" stroke-width="1"/>
<line x1="1424" y1="278.5" x2="1428" y2="278.5" stroke="#4a4a4a" stroke-width="1"/>
<line x1="1424" y1="332.5" x2="1428" y2="332.5" stroke="#4a4a4a" stroke-width="1"/>
<line x1="1424" y1="364.5" x2="1428" y2="364.5" stroke="#4a4a4a" stroke-width="1"/>
<line x1="1424" y1="395.5" x2="1428" y2="395.5" stroke="#4a4a4a" stroke-width="1"/>
<line x1="1424" y1="426.5" x2="1428" y2="426.5" stroke="#4a4a4a" stroke-width="1"/>
<line x1="1424" y1="458.5" x2="1428" y2="458.5" stroke="#4a4a4a" stroke-width="1"/>
<rect x="56" y="529" width="14" height="2" fill="#2f7ec6"/>
</svg>
<div class="t ax pl" style="left:1432px;top:32px">290B</div>
<div class="t ax pl" style="left:1432px;top:80px">280B</div>
<div class="t ax pl" style="left:1432px;top:128px">270B</div>
<div class="t ax pl" style="left:1432px;top:176px">260B</div>
<div class="t ax pl" style="left:1432px;top:224px">250B</div>
<div class="t ax pl" style="left:1432px;top:272px">240B</div>
<div class="t ax pl" style="left:1432px;top:326px">400B</div>
<div class="t ax pl" style="left:1432px;top:358px">300B</div>
<div class="t ax pl" style="left:1432px;top:389px">200B</div>
<div class="t ax pl" style="left:1432px;top:420px">100B</div>
<div class="t ax pl" style="left:1432px;top:452px">0</div>
<div class="t ax tc" style="left:11px;top:480px">03:00</div>
<div class="t ax tc" style="left:105px;top:480px">12:00</div>
<div class="t ax tc b" style="left:232px;top:480px">17</div>
<div class="t ax tc" style="left:358px;top:480px">12:00</div>
<div class="t ax tc b" style="left:484px;top:480px">18</div>
<div class="t ax tc" style="left:610px;top:480px">12:00</div>
<div class="t ax tc b" style="left:737px;top:480px">19</div>
<div class="t ax tc" style="left:863px;top:480px">12:00</div>
<div class="t ax tc b" style="left:989px;top:480px">20</div>
<div class="t ax tc" style="left:1116px;top:480px">12:00</div>
<div class="t ax tc b" style="left:1242px;top:480px">21</div>
<div class="t ax tc" style="left:1368px;top:480px">12:00</div>
<div class="t leg blue" style="left:20px;top:26px">277.171B</div>
<div class="t leg gray" style="left:21px;top:326px">117.693B</div>
<div class="lb" style="left:1349px;top:90px;width:73px;background:#2196f3"><span style="left:8px;letter-spacing:-0.4px">Market Cap</span></div>
<div class="lb" style="left:1423px;top:90px;width:66px;background:#2196f3"><i></i><span style="left:9px;letter-spacing:-0.4px">277.171B</span></div>
<div class="lb" style="left:1375px;top:412px;width:47px;background:#8a8d93"><span style="left:2px;letter-spacing:-0.35px">Volume</span></div>
<div class="lb" style="left:1423px;top:412px;width:66px;background:#8a8d93"><i></i><span style="left:9px;letter-spacing:-0.4px">117.693B</span></div>
<div class="t tb" style="left:25px;top:510px">1D</div>
<div class="t tb sel" style="left:55px;top:510px">5D</div>
<div class="t tb" style="left:85px;top:510px">1M</div>
<div class="t tb" style="left:116px;top:510px">3M</div>
<div class="t tb" style="left:147px;top:510px">6M</div>
<div class="t tb" style="left:179px;top:510px">YTD</div>
<div class="t tb" style="left:217px;top:510px">1Y</div>
<div class="t tb" style="left:246px;top:510px">5Y</div>
<div class="t tb" style="left:276px;top:510px">All</div>
</body></html>
